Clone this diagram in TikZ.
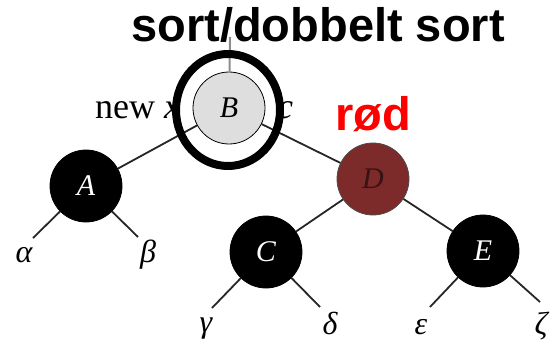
\documentclass[tikz,border=0pt]{standalone}
\usepackage{fontspec}
\setmainfont{Liberation Serif}
\newfontfamily\arialfont{Liberation Sans}
\usetikzlibrary{shapes.geometric}
\definecolor{maroon}{RGB}{125,42,42}
\definecolor{lightstip}{RGB}{222,222,222}
\tikzset{
  tnode/.style={circle, minimum size=72pt, inner sep=0pt, draw=black, line width=0.8pt,
     font=\fontsize{30}{32}\selectfont\itshape},
  blacknode/.style={tnode, fill=black, text=white},
  leaf/.style={font=\fontsize{32}{34}\selectfont\itshape, inner sep=0pt},
  edge/.style={draw=black!85, line width=1.8pt},
  bigtitle/.style={font=\arialfont\bfseries\fontsize{47}{50}\selectfont, inner sep=0pt},
}
\begin{document}
\begin{tikzpicture}[x=1pt,y=-1pt]
\useasboundingbox (0,0) rectangle (551,350);
% nodes
\node[tnode, fill=lightstip] (B) at (229,108) {B};
\node[blacknode] (A) at (86,186) {A};
\node[tnode, fill=maroon, draw=black!70, text=black!55!maroon] (D) at (373,179) {D};
\node[blacknode] (C) at (266,252) {C};
\node[blacknode] (E) at (483,251) {E};
% free ends
\coordinate (top) at (230,37);
\coordinate (ea) at (33,238);
\coordinate (eb) at (138,237);
\coordinate (eg) at (212,308);
\coordinate (ed) at (320,307);
\coordinate (ee) at (430,307);
\coordinate (ez) at (540,302);
% edges
\draw[draw=black!45, line width=2pt] (B) -- (top);
\draw[edge] (B) -- (A);
\draw[edge] (B) -- (D);
\draw[edge] (D) -- (C);
\draw[edge] (D) -- (E);
\draw[edge] (A) -- (ea);
\draw[edge] (A) -- (eb);
\draw[edge] (C) -- (eg);
\draw[edge] (C) -- (ed);
\draw[edge] (E) -- (ee);
\draw[edge] (E) -- (ez);
% leaf labels
\node[leaf, anchor=base] (alpha) at (24,262) {α};
\node[leaf, anchor=base] (beta) at (148,262) {β};
\node[leaf, anchor=base] (gamma) at (206,332) {γ};
\node[leaf, anchor=base] (delta) at (330,334) {δ};
\node[leaf, anchor=base] (eps) at (421,334) {ε};
\node[leaf, anchor=base] (zeta) at (541,334) {ζ};
% side labels
\node[font=\fontsize{36}{38}\selectfont, anchor=base west, inner sep=0pt] (newx) at (95,118) {new \textit{x}};
\node[font=\fontsize{36}{38}\selectfont, anchor=base west, inner sep=0pt] (c) at (277,118) {\textit{c}};
% ring
\node[draw=black, ellipse, line width=8pt, minimum width=104pt, minimum height=112pt, inner sep=0pt] (ring) at (228,110) {};
% titles
\node[bigtitle, anchor=base] (title) at (318,42) {sort/dobbelt sort};
\node[bigtitle, anchor=base, text=red] (rod) at (373,130) {rød};
\end{tikzpicture}
\end{document}
